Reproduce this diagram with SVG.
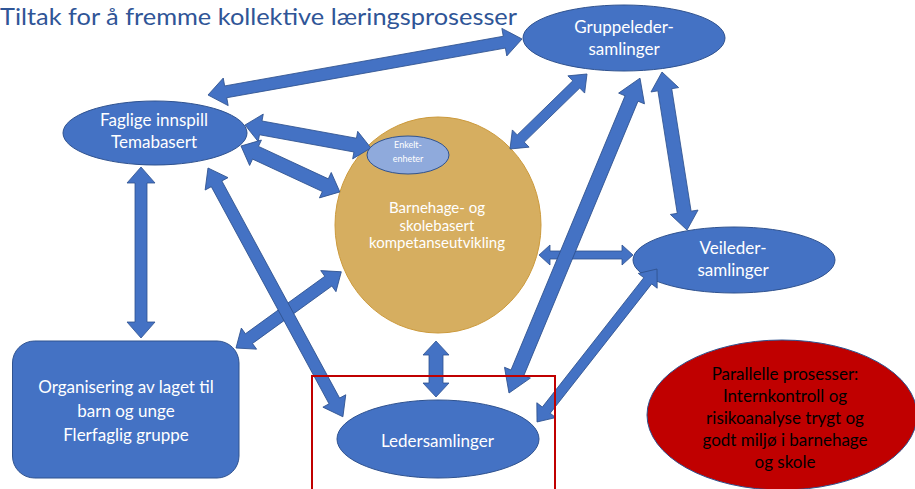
<svg xmlns="http://www.w3.org/2000/svg" width="915" height="489" viewBox="0 0 915 489">
<style>
.node{fill:#4472C4;stroke:#2F528F;stroke-width:1}
.arr{fill:#4472C4;stroke:#2F528F;stroke-width:0.8;stroke-linejoin:miter}
.t{font-family:Lato,"Open Sans","Liberation Sans",sans-serif;fill:#FFFFFF;text-anchor:middle;font-size:17px}
.tb{font-family:Lato,"Open Sans","Liberation Sans",sans-serif;fill:#000000;text-anchor:middle;font-size:17px}
.title{font-family:Lato,"Open Sans","Liberation Sans",sans-serif;fill:#2F5597;font-size:24px}
</style>
<rect width="915" height="489" fill="#FFFFFF"/>
<text class="title" x="0" y="25" textLength="517" lengthAdjust="spacingAndGlyphs">Tiltak for å fremme kollektive læringsprosesser</text>

<g id="node-barnehage">
<ellipse cx="438" cy="225" rx="103" ry="108" fill="#D6AE60" stroke="#CC9A3C" stroke-width="1"/>
<text class="t" x="437" y="213" style="font-size:15px">Barnehage- og</text>
<text class="t" x="437" y="230.5" style="font-size:15px">skolebasert</text>
<text class="t" x="437" y="248" style="font-size:15px">kompetanseutvikling</text>
</g>

<g id="node-gruppeleder">
<ellipse class="node" cx="624" cy="38" rx="101" ry="33"/>
<text class="t" x="624" y="33">Gruppeleder-</text>
<text class="t" x="624" y="55">samlinger</text>
</g>

<g id="node-veileder">
<ellipse class="node" cx="734" cy="260" rx="101" ry="33"/>
<text class="t" x="733" y="254">Veileder-</text>
<text class="t" x="733" y="276">samlinger</text>
</g>

<g id="node-faglige">
<ellipse class="node" cx="155" cy="133" rx="92" ry="32"/>
<text class="t" x="154" y="126">Faglige innspill</text>
<text class="t" x="154" y="148">Temabasert</text>
</g>

<g id="node-organisering">
<rect class="node" x="12.5" y="341" width="226.5" height="137" rx="22" ry="22"/>
<text class="t" x="126" y="393">Organisering av laget til</text>
<text class="t" x="126" y="417">barn og unge</text>
<text class="t" x="126" y="441">Flerfaglig gruppe</text>
</g>

<g id="node-ledersamlinger">
<ellipse class="node" cx="438" cy="439" rx="101" ry="39"/>
<text class="t" x="437.5" y="447">Ledersamlinger</text>
</g>

<g id="node-parallelle">
<ellipse cx="782" cy="415" rx="135" ry="75" fill="#C00000" stroke="#2F528F" stroke-width="1"/>
<text class="tb" x="785" y="380">Parallelle prosesser:</text>
<text class="tb" x="785" y="402">Internkontroll og</text>
<text class="tb" x="785" y="424">risikoanalyse trygt og</text>
<text class="tb" x="785" y="446">godt miljø i barnehage</text>
<text class="tb" x="785" y="468">og skole</text>
</g>

<g id="connectors">
<polygon class="arr" transform="translate(208 95) rotate(-10.11)" points="0,0 18,-14 18,-6 301,-6 301,-14 319,0 301,14 301,6 18,6 18,14"/>
<polygon class="arr" transform="translate(245 125) rotate(10.34)" points="0,0 16,-14 16,-7 112,-7 112,-14 128,0 112,14 112,7 16,7 16,14"/>
<polygon class="arr" transform="translate(241 146) rotate(24.92)" points="0,0 16,-14 16,-7 93,-7 93,-14 109,0 93,14 93,7 16,7 16,14"/>
<polygon class="arr" transform="translate(141 167) rotate(90)" points="0,0 16,-14 16,-6 155,-6 155,-14 171,0 155,14 155,6 16,6 16,14"/>
<polygon class="arr" transform="translate(236 348) rotate(-35.90)" points="0,0 16,-13 16,-6 114,-6 114,-13 130,0 114,13 114,6 16,6 16,13"/>
<polygon class="arr" transform="translate(208 168) rotate(61.53)" points="0,0 18,-13 18,-6 265,-6 265,-13 283,0 265,13 265,6 18,6 18,13"/>
<polygon class="arr" transform="translate(510 149) rotate(-44.25)" points="0,0 15,-12 15,-5 92.5,-5 92.5,-12 107.5,0 92.5,12 92.5,5 15,5 15,12"/>
<polygon class="arr" transform="translate(539 255) rotate(0)" points="0,0 11,-10 11,-4 83,-4 83,-10 94,0 83,10 83,4 11,4 11,10"/>
<polygon class="arr" transform="translate(509 393) rotate(-67.41)" points="0,0 22,-14 22,-7 319,-7 319,-14 341,0 319,14 319,7 22,7 22,14"/>
<polygon class="arr" transform="translate(662 72) rotate(81.01)" points="0,0 18,-14 18,-7 142,-7 142,-14 160,0 142,14 142,7 18,7 18,14"/>
<polygon class="arr" transform="translate(657 269) rotate(128.11)" points="0,0 15,-12 15,-5 179.4,-5 179.4,-12 194.4,0 179.4,12 179.4,5 15,5 15,12"/>
<polygon class="arr" transform="translate(436 341) rotate(90)" points="0,0 14,-13 14,-7 42,-7 42,-13 56,0 42,13 42,7 14,7 14,13"/>
</g>

<g id="node-enkelt">
<ellipse cx="408" cy="155" rx="41" ry="19" fill="#8FAADC" stroke="#2F528F" stroke-width="1"/>
<text class="t" x="408" y="148" style="font-size:9px">Enkelt-</text>
<text class="t" x="408" y="162" style="font-size:9px">enheter</text>
</g>

<rect x="312" y="376" width="243" height="115" fill="none" stroke="#C00000" stroke-width="2"/>
</svg>
